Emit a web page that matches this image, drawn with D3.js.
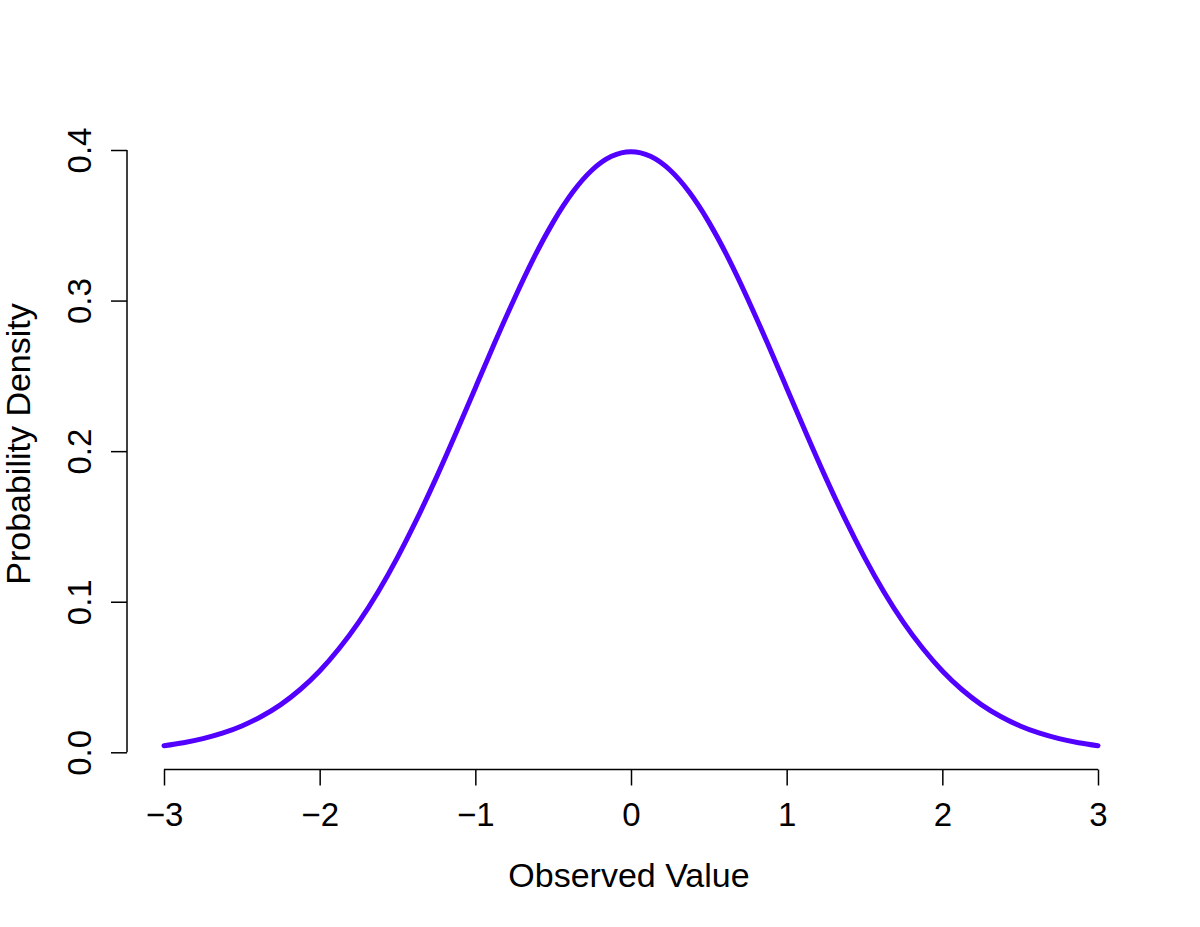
<!DOCTYPE html>
<html>
<head>
<meta charset="utf-8">
<script src="https://cdn.jsdelivr.net/npm/d3@7/dist/d3.min.js"></script>
<style>
  html, body { margin: 0; padding: 0; background: #fff; }
  svg { display: block; }
  text { font-family: "Liberation Sans", Arial, Helvetica, sans-serif; fill: #000; }
</style>
</head>
<body>
<svg id="chart" width="1200" height="927"></svg>
<script>
// Values (density curve)
const xValues = [-3, -2.875, -2.75, -2.625, -2.5, -2.375, -2.25, -2.125, -2, -1.875, -1.75, -1.625,
                 -1.5, -1.375, -1.25, -1.125, -1, -0.875, -0.75, -0.625, -0.5, -0.375, -0.25, -0.125, 0,
                 0.125, 0.25, 0.375, 0.5, 0.625, 0.75, 0.875, 1, 1.125, 1.25, 1.375, 1.5,
                 1.625, 1.75, 1.875, 2, 2.125, 2.25, 2.375, 2.5, 2.625, 2.75, 2.875, 3];
const densityValues = [0.0044, 0.0064, 0.0091, 0.0127, 0.0175, 0.0238, 0.0317, 0.0417, 0.0540, 0.0689, 0.0863, 0.1065,
                       0.1295, 0.1550, 0.1826, 0.2119, 0.2420, 0.2721, 0.3011, 0.3282, 0.3521, 0.3719, 0.3867, 0.3958, 0.3989,
                       0.3958, 0.3867, 0.3719, 0.3521, 0.3282, 0.3011, 0.2721, 0.2420, 0.2119, 0.1826, 0.1550, 0.1295,
                       0.1065, 0.0863, 0.0689, 0.0540, 0.0417, 0.0317, 0.0238, 0.0175, 0.0127, 0.0091, 0.0064, 0.0044];
const xTicks = [-3, -2, -1, 0, 1, 2, 3];
const yTicks = [0.0, 0.1, 0.2, 0.3, 0.4];
const xTitle = "Observed Value";
const yTitle = "Probability Density";

const svg = d3.select("#chart");
const x = d3.scaleLinear().domain([-3, 3]).range([164, 1098]);
const y = d3.scaleLinear().domain([0, 0.4]).range([752.3, 150]);

const points = xValues.map((v, i) => ({ x: v, y: densityValues[i] }));

// curve
svg.append("path")
  .datum(points)
  .attr("fill", "none")
  .attr("stroke", "#5200ff")
  .attr("stroke-width", 5)
  .attr("stroke-linecap", "round")
  .attr("stroke-linejoin", "round")
  .attr("d", d3.line().x(d => x(d.x)).y(d => y(d.y)).curve(d3.curveNatural));

// x axis
const gx = svg.append("g").attr("transform", "translate(0,769.5)");
gx.call(d3.axisBottom(x).tickValues(xTicks).tickSize(16).tickSizeOuter(0).tickFormat(d => d < 0 ? "\u2212" + Math.abs(d) : String(d)));
gx.select(".domain").attr("stroke", "#000").attr("stroke-width", 1.5).attr("d", `M${x(-3)},0H${x(3)}`);
gx.selectAll(".tick line").attr("stroke", "#000").attr("stroke-width", 1.5);
gx.selectAll(".tick text")
  .attr("font-family", "'Liberation Sans', Arial, sans-serif")
  .attr("font-size", 33)
  .attr("dy", null)
  .attr("y", 56)
  .attr("fill", "#000");

// y axis
const gy = svg.append("g").attr("transform", "translate(127,0)");
gy.call(d3.axisLeft(y).tickValues(yTicks).tickSize(16).tickSizeOuter(0).tickFormat(d3.format(".1f")));
gy.select(".domain").attr("stroke", "#000").attr("stroke-width", 1.5).attr("d", `M0,${y(0)}V${y(0.4)}`);
gy.selectAll(".tick line").attr("stroke", "#000").attr("stroke-width", 1.5);
gy.selectAll(".tick text")
  .attr("font-family", "'Liberation Sans', Arial, sans-serif")
  .attr("font-size", 33)
  .attr("x", null)
  .attr("dy", null)
  .attr("text-anchor", "middle")
  .attr("transform", "translate(-36,0) rotate(-90)")
  .attr("fill", "#000");

// axis titles
svg.append("text")
  .attr("x", 629)
  .attr("y", 887)
  .attr("text-anchor", "middle")
  .attr("font-size", 34)
  .text(xTitle);

svg.append("text")
  .attr("transform", "translate(30,444) rotate(-90)")
  .attr("text-anchor", "middle")
  .attr("font-size", 34)
  .text(yTitle);
</script>
</body>
</html>
